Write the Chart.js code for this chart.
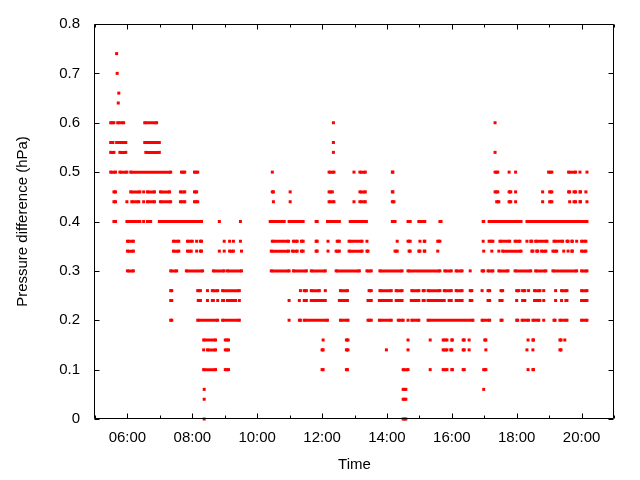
<!DOCTYPE html>
<html>
<head>
<meta charset="utf-8">
<script src="https://cdn.jsdelivr.net/npm/chart.js@4/dist/chart.umd.min.js"></script>
<style>
  html, body { margin: 0; padding: 0; background: #fff; }
  canvas { display: block; }
</style>
</head>
<body>
<canvas id="chart" width="640" height="480"></canvas>
<script>
// runs of samples at each pressure difference (hPa)
// "HH:MM-HH:MM" = continuous run, "HH:MM" = single sample
const p074 = ["05:40"];
const p070 = ["05:41"];
const p066 = ["05:44"];
const p064 = ["05:43"];
const p060 = ["05:29-05:35", "05:42-05:53", "06:32-06:54", "12:21", "17:20"];
const p056 = ["05:29-05:33", "05:40-05:57", "06:32-06:59", "12:21"];
const p054 = ["05:29-05:35", "05:46-05:57", "06:34-06:59", "12:21", "17:20"];
const p050 = ["05:29-05:38", "05:46-05:59", "06:06-07:20", "07:40-07:46", "08:04-08:10", "10:28",
  "12:13-12:22", "12:59", "13:10-13:20", "14:10-14:11", "17:20-17:25", "17:46", "17:58",
  "18:59-19:05", "19:36-19:49", "19:57", "20:10"];
const p046 = ["05:35-05:38", "06:06-06:23", "06:30", "06:37-06:50", "07:01-07:18", "07:38-07:46",
  "08:04-08:08", "10:28-10:30", "11:01", "12:13-12:19", "13:10-13:20", "14:10-14:11",
  "17:20-17:25", "17:46-17:49", "17:58", "18:48", "19:01-19:05", "19:36-19:38", "19:46-19:49",
  "19:57-19:58", "20:08"];
const p044 = ["05:35-05:38", "05:59", "06:08-06:21", "06:30", "06:37-06:50", "07:01-07:20",
  "07:38-07:46", "08:04-08:10", "10:30", "11:01", "12:13-12:22", "12:59", "13:10-13:20",
  "14:10-14:13", "17:23-17:27", "17:46-17:49", "17:58", "18:48", "19:01-19:05", "19:38",
  "19:46-19:49", "19:57-19:58", "20:10"];
const p040 = ["05:35-05:38", "05:59-06:23", "06:30", "06:37-06:43", "06:59-08:17", "08:50", "09:29",
  "10:24-10:50", "10:59-11:25", "11:49-11:51", "12:10-12:32", "12:52-13:22", "14:10-14:15",
  "14:39-14:43", "14:59-15:10", "15:38-15:40", "16:58-16:59", "17:09-18:08", "18:19-20:10"];
const p036 = ["06:00-06:11", "07:25-07:35", "07:51-08:00", "08:08", "08:15-08:17", "08:59", "09:09",
  "09:16", "09:29", "10:28-10:58", "11:07-11:14", "11:22-11:25", "11:49-11:51", "12:11",
  "12:28-12:32", "12:50-13:14", "13:23", "14:19", "14:39-14:43", "15:01", "15:09-15:10",
  "15:34-15:38", "16:58", "17:09-17:16", "17:29-17:47", "17:57-18:06", "18:19", "18:26-18:28",
  "18:35-18:56", "19:09-19:25", "19:33-19:35", "19:42-19:43", "19:51", "20:00-20:08"];
const p034 = ["06:00-06:11", "07:25-07:35", "07:51-07:58", "08:08", "08:15-08:17", "08:50", "08:59",
  "09:09-09:16", "09:31", "10:26-10:58", "11:05-11:14", "11:22-11:25", "11:49-11:51", "12:11",
  "12:26-12:32", "12:50-13:14", "13:23-13:25", "14:15-14:19", "14:41-14:43", "14:59-15:01",
  "15:09-15:10", "15:34", "16:59", "17:14", "17:27", "17:34-18:08", "18:28-18:30", "18:37-18:39",
  "18:46-18:54", "19:07-19:14", "19:27", "19:35", "19:42-19:43", "20:00-20:08"];
const p030 = ["06:00-06:11", "07:20-07:31", "07:49-08:19", "08:39-08:59", "09:05-09:31", "10:26-10:59",
  "11:07-11:31", "11:40-12:06", "12:26-13:09", "13:23-13:31", "13:47-14:28", "14:39-15:38",
  "15:47-15:59", "16:08-16:19", "16:34", "16:56-16:59", "17:07-17:16", "17:27-17:44",
  "17:57-18:26", "18:35-18:54", "19:07-19:51", "20:00-20:10"];
const p026 = ["07:20-07:22", "08:10-08:15", "08:28", "08:37-08:47", "08:56-09:27", "11:20", "11:27-11:31",
  "11:40-11:55", "12:06", "12:34-12:47", "13:27-13:31", "13:47-14:08", "14:17-14:28", "14:46-14:59",
  "15:07-15:09", "15:16-15:38", "15:46-15:59", "16:08-16:19", "16:34-16:37", "16:56", "17:07-17:10",
  "17:31-17:34", "18:00-18:04", "18:11-18:15", "18:22", "18:33-18:43", "18:50", "19:12",
  "19:23-19:33", "20:00-20:10"];
const p024 = ["07:20-07:22", "08:11-08:15", "08:28", "08:37-08:39", "08:47", "08:56-08:58", "09:05-09:20",
  "09:27", "10:59", "11:18", "11:27-11:31", "11:40-12:06", "12:32-12:47", "13:25-13:31",
  "13:46-14:08", "14:17-14:28", "14:45-14:59", "15:07-15:09", "15:16-15:46", "15:55-15:59",
  "16:08-16:19", "16:34-16:37", "17:07-17:10", "17:29-17:33", "18:00", "18:11-18:15",
  "18:33-18:43", "18:50", "19:12", "19:23", "19:31-19:33", "20:00-20:10"];
const p020 = ["07:20-07:22", "08:10-08:47", "08:56-09:27", "10:59", "11:18-11:20", "11:27-12:10",
  "12:34-12:48", "13:25-13:31", "13:46-14:08", "14:21-14:30", "14:39", "14:46-14:59",
  "15:16-16:39", "16:56-17:10", "17:31-17:33", "18:00-18:02", "18:10-18:22", "18:30-18:41",
  "18:50", "19:09-19:11", "19:20-19:33", "20:00-20:10"];
const p016 = ["08:21-08:43", "09:01-09:07", "12:02", "12:45-12:48", "14:39", "15:20", "15:44-15:51",
  "16:00-16:01", "16:21-16:23", "16:32", "17:01-17:03", "18:21", "18:30-18:31", "19:20-19:22", "19:29"];
const p014 = ["08:21", "08:28-08:43", "09:01-09:07", "12:00-12:02", "12:45-12:48", "13:59", "14:39",
  "15:44-15:51", "15:58-16:00", "16:21-16:23", "16:32", "17:03", "18:19", "18:30", "19:20-19:22"];
const p010 = ["08:21-08:43", "09:01-09:07", "12:00-12:02", "12:45-12:47", "14:30-14:39", "15:20",
  "15:44-15:51", "16:00-16:01", "16:21-16:23", "16:59-17:03", "18:21", "18:30-18:31"];
const p006 = ["08:22", "14:30-14:35", "16:59"];
const p004 = ["08:22", "14:30-14:35"];
const p000 = ["08:22", "14:30-14:35"];

const levelValues = [0.74, 0.70, 0.66, 0.64, 0.60, 0.56, 0.54, 0.50, 0.46, 0.44, 0.40, 0.36,
  0.34, 0.30, 0.26, 0.24, 0.20, 0.16, 0.14, 0.10, 0.06, 0.04, 0.00];
const levelRuns = [p074, p070, p066, p064, p060, p056, p054, p050, p046, p044, p040, p036,
  p034, p030, p026, p024, p020, p016, p014, p010, p006, p004, p000];

const xTickHours = [6, 8, 10, 12, 14, 16, 18, 20];
const xMinorHours = [5, 7, 9, 11, 13, 15, 17, 19, 21];

const toHours = (s) => {
  const [h, m] = s.split(":").map(Number);
  return h + m / 60;
};

const runsToPoints = (runs, v) => {
  const pts = [];
  runs.forEach((r) => {
    const [a, b] = r.split("-");
    pts.push({ x: toHours(a), y: v });
    if (b) pts.push({ x: toHours(b), y: v });
    pts.push({ x: toHours(b || a), y: null }); // break the line
  });
  return pts;
};

const datasets = levelValues.map((v, i) => ({
  data: runsToPoints(levelRuns[i], v),
  borderColor: "#ff0000",
  backgroundColor: "#ff0000",
  borderWidth: 3,
  pointStyle: "rect",
  pointRadius: 2.12,
  pointBorderWidth: 0,
  pointBackgroundColor: "#ff0000",
  spanGaps: false,
  tension: 0,
  clip: 4,
}));

// gnuplot-like frame with inward ticks on all sides
const frameTicks = {
  id: "frameTicks",
  afterDraw(chart) {
    const { ctx, chartArea: a, scales } = chart;
    const x = scales.x, y = scales.y;
    ctx.save();
    ctx.strokeStyle = "#000";
    ctx.lineWidth = 1;
    ctx.beginPath();
    const L = Math.round(a.left) - 0.5, R = Math.round(a.right) - 0.5;
    const T = Math.round(a.top) + 0.5, B = Math.round(a.bottom) - 0.5;
    ctx.rect(L, T, R - L, B - T);
    const vTick = (h, len) => {
      const px = Math.round(x.getPixelForValue(h)) + 0.5;
      ctx.moveTo(px, B); ctx.lineTo(px, B - len);
      ctx.moveTo(px, T); ctx.lineTo(px, T + len);
    };
    xTickHours.forEach((h) => vTick(h, 5));
    xMinorHours.forEach((h) => vTick(h, 3));
    for (let i = 0; i <= 8; i++) {
      const py = Math.round(y.getPixelForValue(i / 10)) + 0.5;
      ctx.moveTo(L, py); ctx.lineTo(L + 5, py);
      ctx.moveTo(R, py); ctx.lineTo(R - 5, py);
    }
    ctx.stroke();
    ctx.restore();
  },
};

Chart.defaults.font.family = "'Liberation Sans', Arial, sans-serif";
Chart.defaults.font.size = 15;
Chart.defaults.color = "#000";

new Chart(document.getElementById("chart"), {
  type: "line",
  data: { datasets },
  options: {
    responsive: false,
    animation: false,
    layout: { padding: { top: 19, right: 26, left: 0, bottom: 0 } },
    plugins: { legend: { display: false }, tooltip: { enabled: false } },
    scales: {
      x: {
        type: "linear",
        min: 5,
        max: 21,
        grid: { display: false, drawTicks: false },
        border: { display: false },
        afterBuildTicks: (scale) => {
          scale.ticks = xTickHours.map((h) => ({ value: h }));
        },
        afterFit: (scale) => { scale.height = 61; },
        ticks: {
          padding: 10,
          maxRotation: 0,
          autoSkip: false,
          callback: (v) => String(v).padStart(2, "0") + ":00",
        },
        title: { display: true, text: "Time", padding: { top: 0, bottom: 6 } },
      },
      y: {
        min: 0,
        max: 0.8,
        grid: { display: false, drawTicks: false },
        border: { display: false },
        afterFit: (scale) => { scale.width = 95; },
        ticks: {
          stepSize: 0.1,
          padding: 15,
          callback: (v) => (v === 0 ? "0" : Number(v).toFixed(1)),
        },
        title: { display: true, text: "Pressure difference (hPa)", padding: { top: 14, bottom: 0 } },
      },
    },
  },
  plugins: [frameTicks],
});
</script>
</body>
</html>
